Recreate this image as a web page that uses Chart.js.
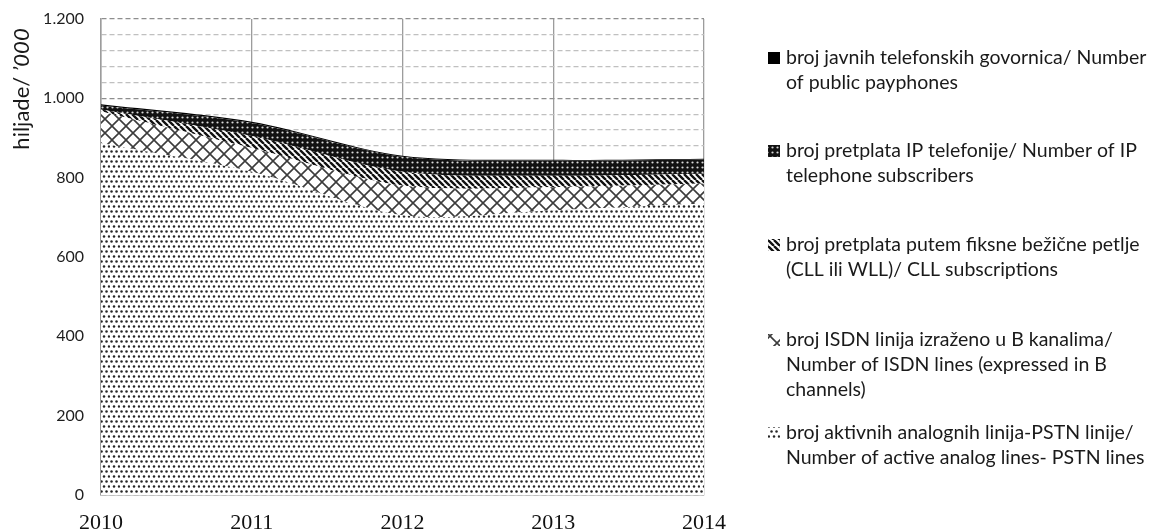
<!DOCTYPE html>
<html>
<head>
<meta charset="utf-8">
<script src="https://cdn.jsdelivr.net/npm/chart.js@4.4.1/dist/chart.umd.min.js"></script>
<style>
  html, body { margin: 0; padding: 0; background: #fff; }
</style>
</head>
<body>
<canvas id="chart" width="1155" height="530"></canvas>
<script>
// godine / years
const years = ['2010', '2011', '2012', '2013', '2014'];

// hiljade ('000), stacked from bottom to top
const pstnLines = [887, 815, 705, 718, 735];
const isdnLines = [80, 60, 75, 58, 50];
const cllSubs = [5, 30, 35, 29, 25];
const ipSubs = [10, 33, 38, 38, 36];
const payphones = [3, 3, 2, 2, 2];

const yTicksMajor = [0, 200, 400, 600, 800, 1000, 1200];

const legendTexts = [
  ['broj javnih telefonskih govornica/ Number', 'of public payphones'],
  ['broj pretplata IP telefonije/ Number of IP', 'telephone subscribers'],
  ['broj pretplata putem fiksne bežične petlje', '(CLL ili WLL)/ CLL subscriptions'],
  ['broj ISDN linija izraženo u B kanalima/', 'Number of ISDN lines (expressed in B', 'channels)'],
  ['broj aktivnih analognih linija-PSTN linije/', 'Number of active analog lines- PSTN lines']
];
const legendY = [58, 151, 245, 340, 433];

function makePattern(w, h, draw) {
  const c = document.createElement('canvas');
  c.width = w;
  c.height = h;
  const g = c.getContext('2d');
  g.fillStyle = '#fff';
  g.fillRect(0, 0, w, h);
  draw(g);
  return document.getElementById('chart').getContext('2d').createPattern(c, 'repeat');
}

// tackice - PSTN
const dotFill = makePattern(10, 10, g => {
  g.fillStyle = '#262626';
  [[1.5, 1.5], [6.5, 1.5], [4, 6.5], [9, 6.5]].forEach(([x, y]) => {
    g.beginPath();
    g.arc(x, y, 1.25, 0, Math.PI * 2);
    g.fill();
  });
});

// mreza - ISDN
const crossFill = makePattern(14, 14, g => {
  g.strokeStyle = '#3c3c3c';
  g.lineWidth = 1.6;
  g.beginPath();
  g.moveTo(-2, -2); g.lineTo(16, 16);
  g.moveTo(16, -2); g.lineTo(-2, 16);
  g.stroke();
});

// kose linije - CLL
const stripeFill = makePattern(6, 6, g => {
  g.strokeStyle = '#111';
  g.lineWidth = 2.4;
  g.beginPath();
  [-6, 0, 6].forEach(k => { g.moveTo(k, 0); g.lineTo(k + 6, 6); });
  g.stroke();
});

// tamna mreza - IP
const ipFill = makePattern(5, 5, g => {
  g.fillStyle = '#111';
  g.fillRect(0, 0, 5, 5);
  g.fillStyle = '#d8d8d8';
  g.beginPath();
  g.arc(2.5, 2.5, 1.1, 0, Math.PI * 2);
  g.fill();
});

const fills = [dotFill, crossFill, stripeFill, ipFill, '#000'];
const seriesData = [pstnLines, isdnLines, cllSubs, ipSubs, payphones];

function fmt(v) {
  return String(v).replace(/\B(?=(\d{3})+(?!\d))/g, '.');
}

const sidePlugin = {
  id: 'sideLegend',
  afterDraw(chart) {
    const ctx = chart.ctx;
    ctx.save();
    ctx.textBaseline = 'middle';
    ctx.textAlign = 'left';
    ctx.font = '19.5px Lato';
    // legend: top item is payphones (last dataset)
    legendTexts.forEach((lines, i) => {
      const y = legendY[i];
      ctx.fillStyle = fills[fills.length - 1 - i];
      ctx.fillRect(768, y - 6, 12, 12);
      ctx.fillStyle = '#1a1a1a';
      lines.forEach((t, j) => ctx.fillText(t, 786, y + j * 25));
    });

    // naslov y ose
    ctx.translate(22, 89);
    ctx.rotate(-Math.PI / 2);
    const a = 'hiljade/ ';
    const b = '\u2019000';
    ctx.font = '22px Lato';
    const wa = ctx.measureText(a).width;
    ctx.font = 'italic 22px Lato';
    const wb = ctx.measureText(b).width;
    let x = -(wa + wb) / 2;
    ctx.font = '22px Lato';
    ctx.fillText(a, x, 0);
    ctx.font = 'italic 22px Lato';
    ctx.fillText(b, x + wa, 0);
    ctx.restore();
  }
};

new Chart(document.getElementById('chart'), {
  type: 'line',
  data: {
    labels: years,
    datasets: seriesData.map((d, i) => ({
      data: d,
      backgroundColor: fills[i],
      borderWidth: 0,
      pointRadius: 0,
      fill: i === 0 ? 'origin' : '-1',
      tension: 0.3
    }))
  },
  options: {
    responsive: false,
    animation: false,
    layout: { autoPadding: false, padding: { top: 19, right: 451, bottom: 0, left: 0 } },
    plugins: { legend: { display: false }, tooltip: { enabled: false } },
    scales: {
      x: {
        type: 'category',
        offset: false,
        afterFit: s => { s.height = 35; },
        grid: { color: '#9c9c9c', lineWidth: 1.3, drawTicks: false, offset: false },
        border: { color: '#9c9c9c', width: 1.5 },
        ticks: {
          padding: 15,
          color: '#111',
          font: { family: 'Liberation Serif', size: 22 },
          maxRotation: 0
        }
      },
      y: {
        stacked: true,
        min: 0,
        max: 1200,
        // tick padding would otherwise push the plot top down
        afterFit: s => { s.width = 101; s.paddingTop = 0; s.paddingBottom = 0; },
        grid: {
          drawTicks: false,
          color: c => (c.tick && yTicksMajor.includes(c.tick.value)) ? '#8e8e8e' : '#c0c0c0',
          lineWidth: 1.2
        },
        border: { color: '#9c9c9c', width: 1.5, dash: [5, 3] },
        ticks: {
          stepSize: 40,
          autoSkip: false,
          padding: 17,
          color: '#1e1e1e',
          font: { family: 'Lato', size: 16 },
          callback: v => yTicksMajor.includes(v) ? fmt(v) : ''
        }
      }
    }
  },
  plugins: [sidePlugin]
});
</script>
</body>
</html>
